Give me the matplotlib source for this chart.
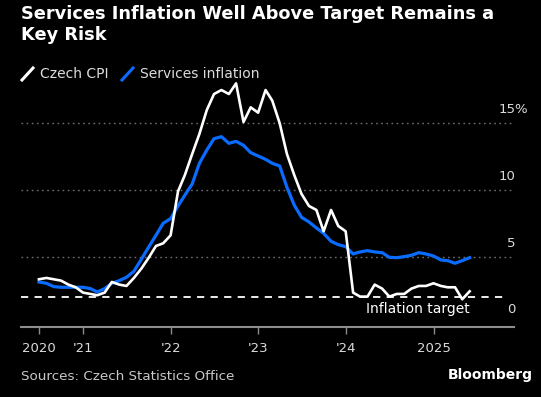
import numpy as np
import pandas as pd
import matplotlib
matplotlib.use("Agg")
import matplotlib.pyplot as plt
import matplotlib.dates as mdates
from matplotlib.lines import Line2D

# ─────────────────────────────────────────────────────────────────────────────
# DATA  (monthly y/y %, Jun 2020 - May 2025)
# ─────────────────────────────────────────────────────────────────────────────

MONTHS = pd.date_range("2020-06-30", periods=60, freq="ME")

CZECH_CPI = [
    3.3, 3.4, 3.3, 3.2, 2.9, 2.7, 2.3,                                # 2020
    2.2, 2.1, 2.3, 3.1, 2.9, 2.8, 3.4, 4.1, 4.9, 5.8, 6.0, 6.6,       # 2021
    9.9, 11.1, 12.7, 14.2, 16.0, 17.2, 17.5, 17.2, 18.0, 15.1, 16.2, 15.8,  # 2022
    17.5, 16.7, 15.0, 12.7, 11.1, 9.7, 8.8, 8.5, 6.9, 8.5, 7.3, 6.9,  # 2023
    2.3, 2.0, 2.0, 2.9, 2.6, 2.0, 2.2, 2.2, 2.6, 2.8, 2.8, 3.0,       # 2024
    2.8, 2.7, 2.7, 1.8, 2.4,                                          # 2025
]

SERVICES = [
    3.1, 3.0, 2.75, 2.7, 2.7, 2.7, 2.7,
    2.6, 2.35, 2.6, 3.0, 3.2, 3.45, 3.9, 4.8, 5.7, 6.6, 7.5, 7.85,
    8.8, 9.6, 10.45, 12.0, 13.0, 13.85, 14.0, 13.5, 13.65, 13.35, 12.8, 12.55,
    12.3, 12.0, 11.8, 10.2, 8.85, 7.95, 7.6, 7.15, 6.75, 6.15, 5.9, 5.75,
    5.2, 5.35, 5.45, 5.35, 5.3, 4.95, 4.92, 5.0, 5.1, 5.3, 5.2, 5.05,
    4.75, 4.7, 4.5, 4.7, 4.92,
]

INFLATION_TARGET = 2.0

TICK_DATES  = ["2020-07-01", "2021-01-01", "2022-01-01", "2023-01-01",
               "2024-01-01", "2025-01-01"]
TICK_LABELS = ["2020", "'21", "'22", "'23", "'24", "2025"]
Y_TICKS     = [0, 5, 10, 15]

TITLE  = "Services Inflation Well Above Target Remains a\nKey Risk"
SOURCE = "Sources: Czech Statistics Office"

# ─────────────────────────────────────────────────────────────────────────────
# STYLE
# ─────────────────────────────────────────────────────────────────────────────

BG        = "black"
WHITE     = "white"
BLUE      = "#0a6cff"
TEXT_GREY = "#dcdcdc"
GRID_GREY = "#6e6e6e"
AXIS_GREY = "#8c8c8c"

W, H = 541, 397
plt.rcParams["font.family"] = ["DejaVu Sans"]

fig = plt.figure(figsize=(W / 100, H / 100), dpi=100, facecolor=BG)
ax = fig.add_axes([20.7 / W, 1 - 326.6 / H, (513.8 - 20.7) / W, (326.6 - 76.7) / H])
ax.set_facecolor(BG)

# lines
ax.plot(MONTHS, SERVICES, color=BLUE, lw=2.3, solid_joinstyle="round", zorder=3)
ax.plot(MONTHS, CZECH_CPI, color=WHITE, lw=1.9, solid_joinstyle="round", zorder=4)

# inflation target
ax.plot([pd.Timestamp("2020-04-15"), pd.Timestamp("2025-10-15")],
        [INFLATION_TARGET, INFLATION_TARGET],
        color=WHITE, lw=1.3, ls=(0, (4, 3.5)), zorder=2)
ax.annotate("Inflation target", xy=(pd.Timestamp("2025-05-31"), INFLATION_TARGET),
            xytext=(0, -4), textcoords="offset points", ha="right", va="top",
            color=WHITE, fontsize=10)

# grid lines
for v in Y_TICKS[1:]:
    ax.axhline(v, color=GRID_GREY, lw=1, ls=(0, (1.2, 2.5)), zorder=1)

# right-hand labels sitting above the grid lines
ytrans = ax.get_yaxis_transform()
for v in Y_TICKS:
    ax.annotate(str(v), xy=(1.0, v), xycoords=ytrans, xytext=(1, 5),
                textcoords="offset points", ha="right", va="bottom",
                color=TEXT_GREY, fontsize=9.5)
ax.annotate("%", xy=(1.0, Y_TICKS[-1]), xycoords=ytrans, xytext=(0, 5),
            textcoords="offset points", ha="left", va="bottom",
            color=TEXT_GREY, fontsize=9.5)

ax.set_xlim(pd.Timestamp("2020-04-15"), pd.Timestamp("2025-12-01"))
ax.set_ylim(-0.25, 18.5)

ax.set_xticks(pd.to_datetime(TICK_DATES))
ax.set_xticklabels(TICK_LABELS)
ax.set_yticks([])
ax.tick_params(axis="x", colors=AXIS_GREY, length=5, width=1, pad=6,
               labelcolor=TEXT_GREY, labelsize=9.5)

for side in ["top", "left", "right"]:
    ax.spines[side].set_visible(False)
ax.spines["bottom"].set_color(AXIS_GREY)
ax.spines["bottom"].set_linewidth(1.5)

# title
fig.text(21 / W, 1 - 5 / H, TITLE, ha="left", va="top", color=WHITE,
         fontsize=12.8, fontweight="bold", linespacing=1.25)

# legend: slash marks + labels
legend_y = 1 - 74 / H
for x0, col, label in [(22, WHITE, "Czech CPI"), (122, BLUE, "Services inflation")]:
    fig.add_artist(Line2D([x0 / W, (x0 + 11) / W], [legend_y - 6 / H, legend_y + 6 / H],
                          color=col, lw=2.2, transform=fig.transFigure))
    fig.text((x0 + 18) / W, legend_y, label, ha="left", va="center",
             color=TEXT_GREY, fontsize=10)

# footer
fig.text(21 / W, 1 - 376 / H, SOURCE, ha="left", va="center",
         color="#c8c8c8", fontsize=9.7)
fig.text(533 / W, 1 - 375 / H, "Bloomberg", ha="right", va="center",
         color=WHITE, fontsize=10, fontweight="bold")

fig.savefig("out.png", dpi=100, facecolor=BG)
